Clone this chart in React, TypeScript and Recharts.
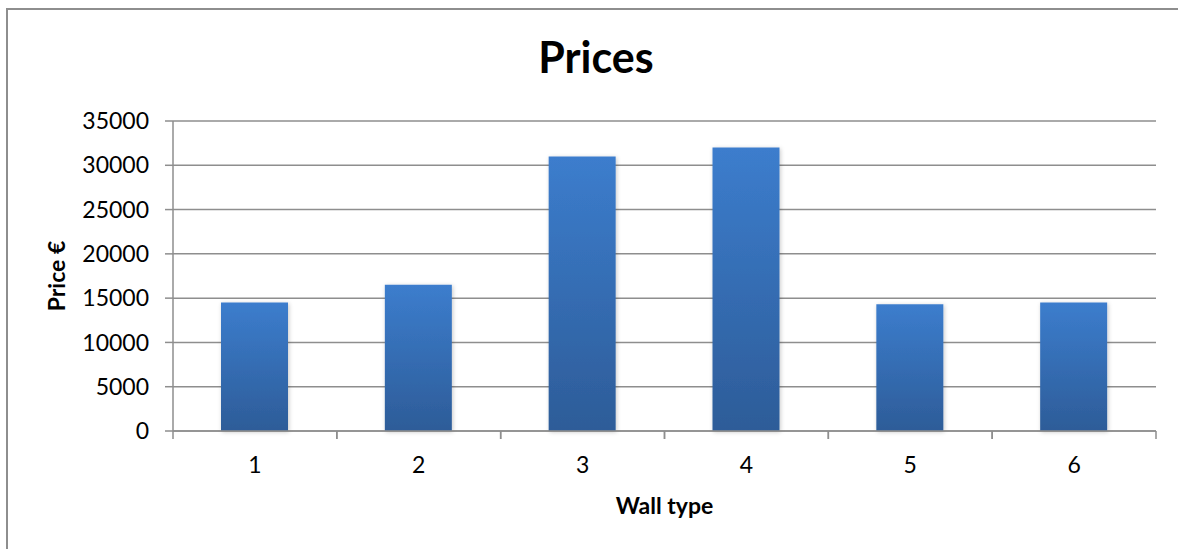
import React from 'react';
import { BarChart, Bar, XAxis, YAxis, CartesianGrid, Label } from 'recharts';

const wallTypes = ['1', '2', '3', '4', '5', '6'];
const prices = [14500, 16500, 31000, 32000, 14300, 14500];
const priceTicks = [0, 5000, 10000, 15000, 20000, 25000, 30000, 35000];

const data = wallTypes.map((type, i) => ({ type, price: prices[i] }));

const FONT = 'Lato, "Open Sans", sans-serif';
const LINE = '#8e8e8e';
const TEXT = '#000';
const TICK_SIZE = 8;
const X_TICK_GAP = 18;

// category label plus tick marks on both edges of its band
const CategoryTick = (props: any) => {
  const { x, y, payload, width, visibleTicksCount } = props;
  const half =
    payload && payload.offset ? payload.offset : width && visibleTicksCount ? width / visibleTicksCount / 2 : 0;
  const axisY = y - TICK_SIZE - X_TICK_GAP;
  return (
    <g>
      <line x1={x - half} x2={x - half} y1={axisY} y2={axisY + TICK_SIZE} stroke={LINE} strokeWidth={1.5} />
      <line x1={x + half} x2={x + half} y1={axisY} y2={axisY + TICK_SIZE} stroke={LINE} strokeWidth={1.5} />
      <text x={x} y={y} dy="0.71em" textAnchor="middle" fontSize={23} fill={TEXT}>
        {payload.value}
      </text>
    </g>
  );
};

export default function App() {
  return (
    <div
      style={{
        position: 'fixed',
        left: 0,
        top: 0,
        width: 1178,
        height: 549,
        overflow: 'hidden',
        background: '#fff',
        fontFamily: FONT,
      }}
    >
      {/* chart frame: top and left edges */}
      <div style={{ position: 'absolute', left: 6, top: 8, width: 1172, height: 2, background: LINE }} />
      <div style={{ position: 'absolute', left: 6, top: 8, width: 2, height: 541, background: LINE }} />
      <div
        style={{
          position: 'absolute',
          left: 0,
          width: 1192,
          top: 31,
          textAlign: 'center',
          fontSize: 43,
          fontWeight: 700,
          color: '#000',
        }}
      >
        Prices
      </div>
      <div style={{ position: 'absolute', left: 0, top: 0 }}>
        <BarChart
          width={1178}
          height={549}
          data={data}
          margin={{ top: 121, right: 22, bottom: 117, left: 0 }}
          style={{ fontFamily: FONT }}
        >
          <defs>
            <linearGradient id="barFill" x1="0" y1="0" x2="0" y2="1">
              <stop offset="0%" stopColor="#3c7dcd" />
              <stop offset="100%" stopColor="#2d5c98" />
            </linearGradient>
            <filter id="barShadow" x="-20%" y="-10%" width="140%" height="120%">
              <feDropShadow dx="1" dy="1" stdDeviation="2" floodColor="#000" floodOpacity="0.22" />
            </filter>
          </defs>
          <CartesianGrid vertical={false} stroke={LINE} strokeWidth={1.5} />
          <XAxis
            dataKey="type"
            height={1}
            tickLine={false}
            axisLine={{ stroke: LINE, strokeWidth: 1.5 }}
            tickSize={TICK_SIZE}
            tickMargin={X_TICK_GAP}
            interval={0}
            tick={<CategoryTick />}
          >
            <Label
              value="Wall type"
              position="bottom"
              offset={66}
              style={{ fontSize: 23, fontWeight: 700, fill: TEXT }}
            />
          </XAxis>
          <YAxis
            width={173}
            domain={[0, 35000]}
            ticks={priceTicks}
            interval={0}
            axisLine={{ stroke: LINE, strokeWidth: 1.5 }}
            tickLine={{ stroke: LINE, strokeWidth: 1.5 }}
            tickSize={TICK_SIZE}
            tickMargin={16}
            tick={{ fontSize: 23, fill: TEXT }}
          >
            <Label
              value="Price €"
              angle={-90}
              position="center"
              dx={-30}
              style={{ fontSize: 23, fontWeight: 700, fill: TEXT, textAnchor: 'middle' }}
            />
          </YAxis>
          <Bar
            dataKey="price"
            barSize={67}
            fill="url(#barFill)"
            filter="url(#barShadow)"
            isAnimationActive={false}
          />
        </BarChart>
      </div>
    </div>
  );
}
